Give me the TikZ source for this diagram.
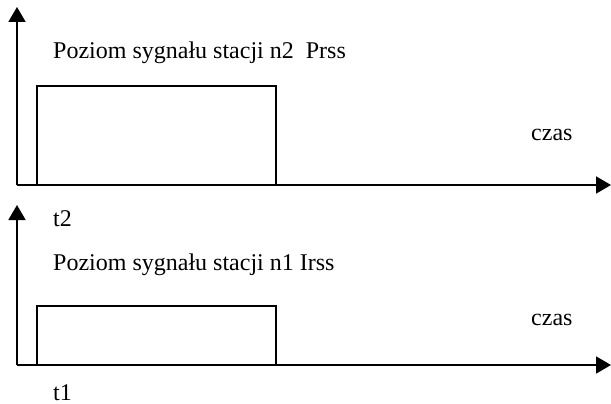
\documentclass[tikz,border=0pt]{standalone}
\usepackage{fontspec}
\setmainfont{Liberation Serif}
\usetikzlibrary{arrows.meta}
\begin{document}
\begin{tikzpicture}[x=1pt,y=-1pt,
  axis/.style={line width=1.8pt,-{Triangle[length=15pt,width=17pt]}},
  pulse/.style={line width=1.2pt},
  lbl/.style={anchor=base west,inner sep=0pt,font=\fontsize{24}{28}\selectfont}]
\useasboundingbox (0,0) rectangle (611,404);
% upper diagram: station n2
\coordinate (o2) at (17,185);
\coordinate (y2) at (17,7);
\coordinate (x2) at (611,185);
\draw[pulse] (37,185) rectangle (276,86);
\draw[axis] (o2) -- (y2);
\draw[axis] (o2) -- (x2);
\node[lbl] (title2) at (53,58.5) {Poziom sygnału stacji n2\ \ Prss};
\node[lbl] (time2) at (531,140) {czas};
\node[lbl] (t2) at (53,226.5) {t2};
% lower diagram: station n1
\coordinate (o1) at (17,365);
\coordinate (y1) at (17,205);
\coordinate (x1) at (611,365);
\draw[pulse] (37,365) rectangle (276,306);
\draw[axis] (o1) -- (y1);
\draw[axis] (o1) -- (x1);
\node[lbl] (title1) at (53,270) {Poziom sygnału stacji n1 Irss};
\node[lbl] (time1) at (531,325) {czas};
\node[lbl] (t1) at (53,400) {t1};
\end{tikzpicture}
\end{document}
